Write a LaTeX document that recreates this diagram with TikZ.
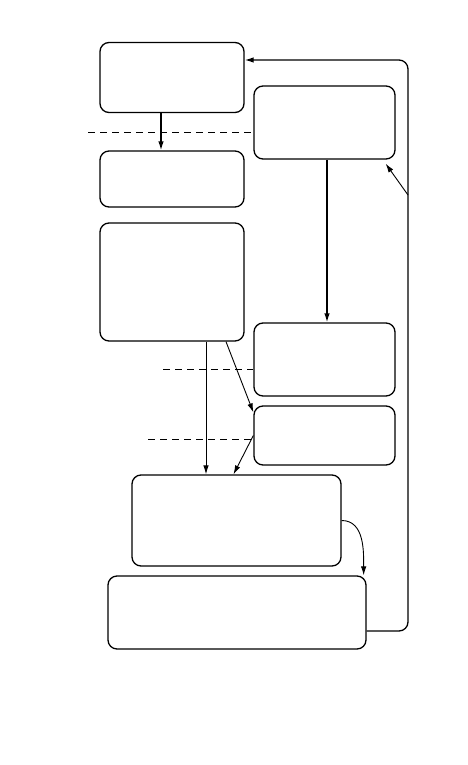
\documentclass[tikz,border=0pt]{standalone}
\usepackage{tikz}
\usetikzlibrary{arrows.meta, positioning}
\tikzset{
  box/.style={rectangle, rounded corners=9pt, draw=black, line width=1.3pt, fill=white, inner sep=0pt},
  arrow/.style={-{Latex[length=9pt, width=5.5pt]}, line width=1.3pt},
  thinarrow/.style={-{Latex[length=9pt, width=5.5pt]}, line width=0.9pt},
  split/.style={dashed, dash pattern=on 7pt off 5pt, line width=1pt}
}

\begin{document}
\begin{tikzpicture}[x=1pt, y=-1pt]
  \useasboundingbox (0,0) rectangle (468,765);
  \node[box, minimum width=144pt, minimum height=70pt] (src) at (172,77.5) {};
  \node[box, minimum width=141pt, minimum height=73pt] (ctrl) at (324.5,122.5) {};
  \node[box, minimum width=144pt, minimum height=56pt] (prep) at (172,179) {};
  \node[box, minimum width=144pt, minimum height=118pt] (core) at (172,282) {};
  \node[box, minimum width=141pt, minimum height=73pt] (upd) at (324.5,359.5) {};
  \node[box, minimum width=141pt, minimum height=59pt] (chk) at (324.5,435.5) {};
  \node[box, minimum width=209pt, minimum height=91pt] (merge) at (236.5,520.5) {};
  \node[box, minimum width=258pt, minimum height=73pt] (out) at (237,612.5) {};
  % free ends
  \coordinate (cut1) at (88,132);
  \coordinate (cut2) at (163,369);
  \coordinate (cut3) at (148,439);
  \coordinate (back) at (408,60);
  \coordinate (tap) at (408,195);
  % dashed separators
  \draw[split] (cut1) -- (cut1 -| ctrl.west);
  \draw[split] (cut2) -- (cut2 -| upd.west);
  \draw[split] (cut3) -- (cut3 -| chk.west);
  % connectors
  \draw[arrow] ([xshift=-11pt]src.south) -- ([xshift=-11pt]prep.north);
  \draw[arrow] ([xshift=2.5pt]ctrl.south) -- ([xshift=2.5pt]upd.north);
  \draw[thinarrow] ([xshift=34pt]core.south) -- ([xshift=34pt]core.south |- merge.north);
  \draw[thinarrow] ([xshift=54pt]core.south) -- ([yshift=-7pt]chk.north west);
  \draw[thinarrow] (chk.west) -- ([xshift=-3pt]merge.north);
  \draw[thinarrow] (merge.east) to[out=0, in=90] ([xshift=-3pt]out.north east);
  \draw[arrow, rounded corners=9pt] ([yshift=-18.5pt]out.east) -| (back) -- ([yshift=17.5pt]src.east);
  \draw[thinarrow] (tap) -- ([xshift=-10pt, yshift=-4pt]ctrl.south east);
\end{tikzpicture}
\end{document}
